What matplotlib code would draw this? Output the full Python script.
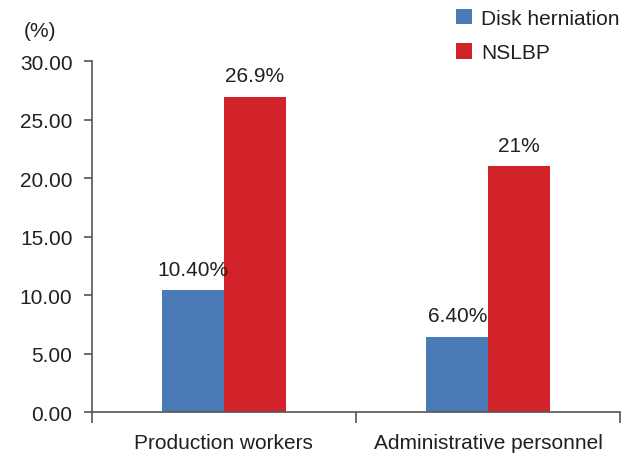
import matplotlib.pyplot as plt
import numpy as np

categories = ['Production workers', 'Administrative personnel']
disk = [10.40, 6.40]
nslbp = [26.9, 21]
disk_labels = ['10.40%', '6.40%']
nslbp_labels = ['26.9%', '21%']
yticks = [0, 5, 10, 15, 20, 25, 30]

plt.rcParams['font.family'] = ['Liberation Sans', 'DejaVu Sans']
txt = '#231f20'
axc = '#555555'
fs = 15

fig = plt.figure(figsize=(6.29, 4.56), dpi=100)
ax = fig.add_axes([0.146, 0.094, 0.84, 0.77])

x = np.arange(len(categories))
w = 0.234
b1 = ax.bar(x - w / 2, disk, w, color='#4a7bb7', label='Disk herniation')
b2 = ax.bar(x + w / 2, nslbp, w, color='#d2232a', label='NSLBP')

for bars, labs in [(b1, disk_labels), (b2, nslbp_labels)]:
    for r, lab in zip(bars, labs):
        ax.annotate(lab, (r.get_x() + r.get_width() / 2, r.get_height()),
                    xytext=(0, 8.5), textcoords='offset points',
                    ha='center', va='bottom', fontsize=fs, color=txt)

ax.set_xlim(-0.5, 1.5)
ax.set_ylim(0, 30)
ax.set_yticks(yticks)
ax.set_yticklabels([f'{v:.2f}' for v in yticks])
ax.set_xticks([-0.5, 0.5, 1.5])
ax.set_xticklabels([])
ax.set_xticks(x, minor=True)
ax.set_xticklabels(categories, minor=True)
ax.tick_params(axis='x', which='major', direction='out', length=8, color=axc, width=1.2)
ax.tick_params(axis='x', which='minor', length=0, pad=15, labelsize=fs, labelcolor=txt)
ax.tick_params(axis='y', direction='out', length=6, color=axc, width=1.2,
               labelsize=fs, labelcolor=txt, pad=8)

for s in ['top', 'right']:
    ax.spines[s].set_visible(False)
for s in ['left', 'bottom']:
    ax.spines[s].set_color(axc)
    ax.spines[s].set_linewidth(1.2)

fig.text(0.064, 0.93, '(%)', fontsize=fs, color=txt, ha='center', va='center')

fig.legend(handles=[b1, b2], loc='upper left', bbox_to_anchor=(0.695, 1.02),
           frameon=False, fontsize=fs, handlelength=0.75, handleheight=0.75,
           handletextpad=0.45, labelspacing=0.75, labelcolor=txt)

fig.savefig('out.png', dpi=100)
